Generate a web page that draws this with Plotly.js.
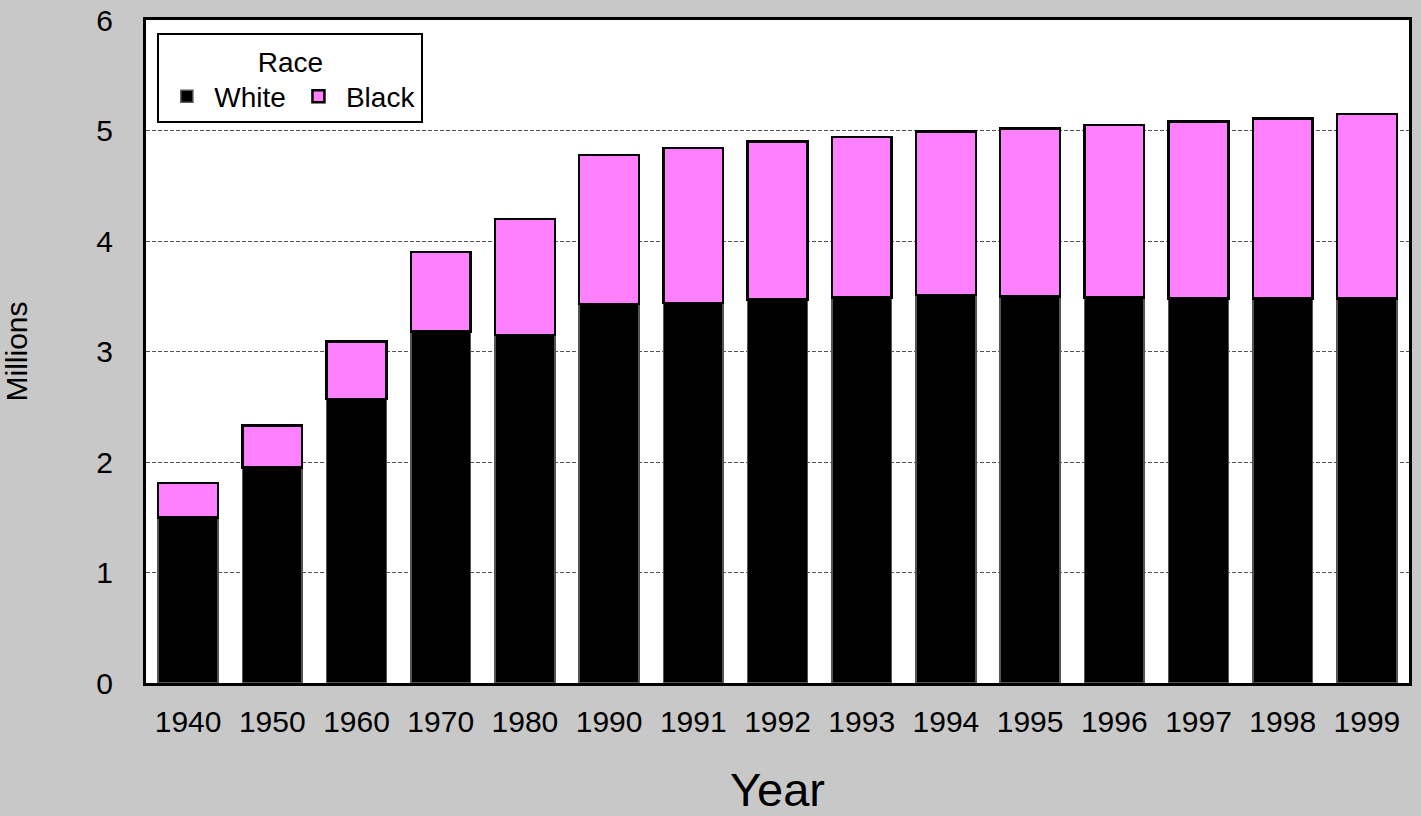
<!DOCTYPE html>
<html>
<head>
<meta charset="utf-8">
<script src="https://cdn.plot.ly/plotly-3.0.1.min.js"></script>
<style>html,body{margin:0;padding:0;background:#c8c8c8;}#chart{width:1421px;height:816px;}</style>
</head>
<body>
<div id="chart"></div>
<script>
const years = ["1940","1950","1960","1970","1980","1990","1991","1992","1993","1994","1995","1996","1997","1998","1999"];
const white = [1.50,1.95,2.57,3.18,3.15,3.43,3.44,3.47,3.49,3.51,3.50,3.49,3.48,3.48,3.48];
const black = [0.31,0.38,0.52,0.72,1.05,1.35,1.40,1.43,1.45,1.48,1.52,1.56,1.60,1.63,1.67];
const yTicks = [0,1,2,3,4,5,6];

const traces = [
  {type:'bar', name:'White', x:years, y:white,
   marker:{color:'#000000', line:{color:'#555555', width:1.5}}},
  {type:'bar', name:'Black', x:years, y:black,
   marker:{color:'#ff80ff', line:{color:'#000000', width:2.5}}}
];

const layout = {
  width:1421, height:816,
  paper_bgcolor:'#c8c8c8', plot_bgcolor:'#ffffff',
  margin:{l:146, r:12, t:20, b:133},
  barmode:'stack', bargap:0.29,
  font:{family:'Liberation Sans, Arial, sans-serif', color:'#000000', size:28},
  showlegend:true,
  legend:{
    x:0.009, y:0.98, xanchor:'left', yanchor:'top',
    orientation:'h', bgcolor:'#ffffff', bordercolor:'#000000', borderwidth:2,
    font:{size:28}, title:{text:'Race', side:'top center', font:{size:28}},
    traceorder:'normal', itemwidth:45, tracegroupgap:0
  },
  xaxis:{
    type:'category', showline:true, linecolor:'#000000', linewidth:3, mirror:true,
    ticks:'outside', ticklen:10, tickcolor:'rgba(0,0,0,0)',
    tickfont:{size:30},
    title:{text:'Year', font:{size:47}, standoff:50}
  },
  yaxis:{
    range:[0,6], tickvals:yTicks, showline:true, linecolor:'#000000', linewidth:3, mirror:true,
    ticks:'outside', ticklen:24, tickcolor:'rgba(0,0,0,0)',
    tickfont:{size:30},
    showgrid:true, gridcolor:'#555555', gridwidth:1, griddash:'4px,2px',
    zeroline:false,
    title:{text:'Millions', font:{size:30}, standoff:60}
  }
};

Plotly.newPlot('chart', traces, layout, {displayModeBar:false, staticPlot:true});
</script>
</body>
</html>
